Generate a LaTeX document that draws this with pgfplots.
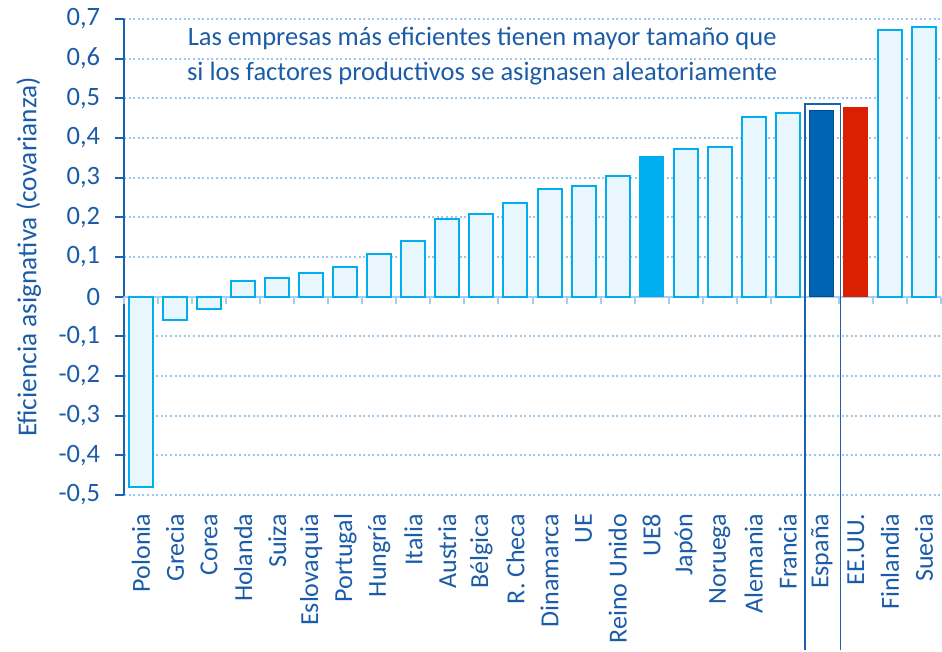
\documentclass[border=0pt]{standalone}
\usepackage{fontspec}
\setmainfont{Carlito}
\usepackage{pgfplots}
\pgfplotsset{compat=1.18}

\definecolor{txtblue}{HTML}{1B5CA9}
\definecolor{axblue}{HTML}{1A62AE}
\definecolor{gridblue}{HTML}{9DC6EC}
\definecolor{zeroblue}{HTML}{A9CDEE}
\definecolor{edgecyan}{HTML}{00AEEF}
\definecolor{barfill}{HTML}{EAF6FD}
\definecolor{espblue}{HTML}{0064B4}
\definecolor{usred}{HTML}{DA2000}

\begin{document}
\fontsize{26}{31}\selectfont
\begin{tikzpicture}
\begin{axis}[
    scale only axis,
    width=817pt, height=476pt,
    xmin=-0.5, xmax=23.5,
    ymin=-0.5, ymax=0.7,
    ybar, bar width=24pt, bar shift=0pt,
    axis x line*=bottom,
    axis y line*=left,
    x axis line style={draw=none},
    y axis line style={axblue, line width=2pt, -},
    ytick={-0.5,-0.4,...,0.7},
    yticklabels={{-0,5},{-0,4},{-0,3},{-0,2},{-0,1},0,{0,1},{0,2},{0,3},{0,4},{0,5},{0,6},{0,7}},
    ytick style={axblue, line width=2pt},
    xtick style={draw=none},
    tick align=outside,
    major tick length=9pt,
    yticklabel style={txtblue, font=\fontsize{26.5}{31}\selectfont, xshift=-6pt},
    ylabel={Eficiencia asignativa (covarianza)},
    ylabel style={txtblue, font=\fontsize{27.3}{31}\selectfont, yshift=0pt},
    xtick={0,...,23},
    xticklabels={Polonia,Grecia,Corea,Holanda,Suiza,Eslovaquia,Portugal,Hungría,Italia,Austria,Bélgica,R. Checa,Dinamarca,UE,Reino Unido,UE8,Japón,Noruega,Alemania,Francia,España,EE.UU.,Finlandia,Suecia},
    xticklabel style={txtblue, yshift=-1pt, rotate=90, anchor=east, font=\fontsize{26}{31}\selectfont},
    ymajorgrids,
    grid style={gridblue, line width=2pt, dash pattern=on 2pt off 2.6pt},
    clip=false,
]
% bounding box margin on the left
\path ([xshift=-124pt]rel axis cs:0,0) -- ([xshift=-124pt]rel axis cs:0,1);
% zero line and boundary ticks
\draw[zeroblue, line width=2pt] (axis cs:-0.5,0) -- (axis cs:23.5,0);
\pgfplotsinvokeforeach{0,...,24}{
  \draw[zeroblue, line width=2pt] (axis cs:#1-0.5,0) -- ([yshift=-7pt]axis cs:#1-0.5,0);
}
% ordinary bars
\addplot[draw=edgecyan, fill=barfill, line width=2pt] coordinates {
  (0,-0.48) (1,-0.058) (2,-0.03) (3,0.04) (4,0.048) (5,0.06) (6,0.075)
  (7,0.108) (8,0.141) (9,0.195) (10,0.209) (11,0.235) (12,0.271) (13,0.278)
  (14,0.304) (16,0.371) (17,0.377) (18,0.452) (19,0.464) (22,0.673) (23,0.68)
};
% UE8
\addplot[draw=edgecyan, fill=edgecyan, line width=1pt] coordinates {(15,0.354)};
% Espana
\addplot[draw=espblue!80!black, fill=espblue, line width=1pt] coordinates {(20,0.468)};
% EE.UU.
\addplot[draw=usred, fill=usred, line width=1pt] coordinates {(21,0.478)};
% box around Espana
\draw[axblue, line width=1.6pt] (axis cs:19.5,-0.89) -- (axis cs:19.5,0.486) -- (axis cs:20.55,0.486) -- (axis cs:20.55,-0.89);
% annotation
\node[txtblue, align=center, font=\fontsize{26.5}{35}\selectfont] at (axis cs:10.02,0.607)
  {Las empresas más eficientes tienen mayor tamaño que\\si los factores productivos se asignasen aleatoriamente};
\end{axis}
\end{tikzpicture}
\end{document}
